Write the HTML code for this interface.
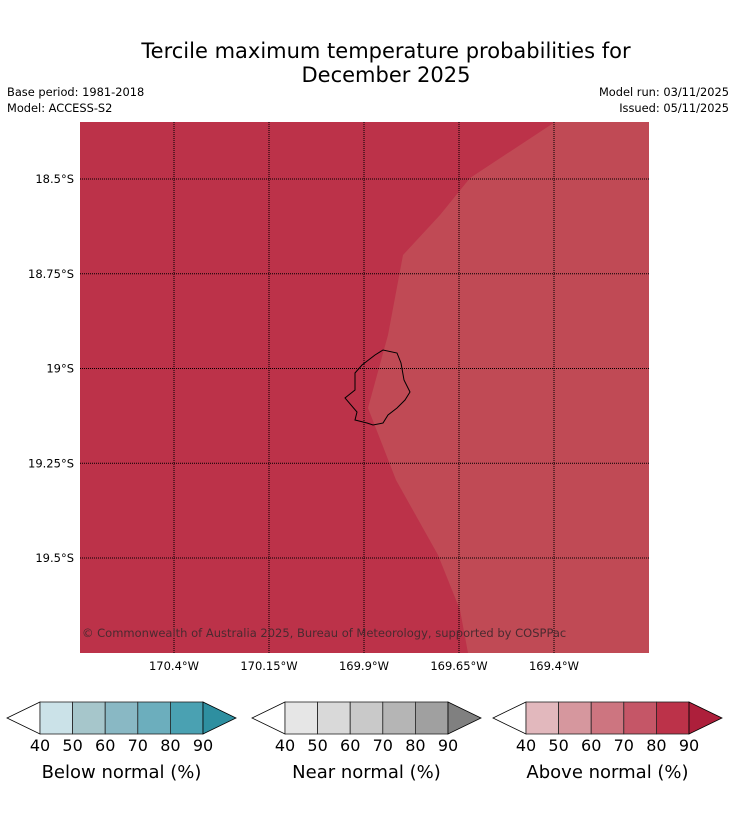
<!DOCTYPE html>
<html><head><meta charset="utf-8"><style>
body{margin:0;background:#fff;width:736px;height:816px;overflow:hidden;font-family:"Liberation Sans","DejaVu Sans",sans-serif}
svg{display:block}
</style></head><body>
<svg id="s" width="736" height="816" xmlns="http://www.w3.org/2000/svg" font-family="DejaVu Sans, Liberation Sans, sans-serif">
<text x="386" y="58" font-size="21" text-anchor="middle">Tercile maximum temperature probabilities for</text>
<text x="386" y="82" font-size="21" text-anchor="middle">December 2025</text>
<text x="7" y="96" font-size="11.4">Base period: 1981-2018</text>
<text x="7" y="112" font-size="11.4">Model: ACCESS-S2</text>
<text x="729" y="96" font-size="11.4" text-anchor="end">Model run: 03/11/2025</text>
<text x="729" y="112" font-size="11.4" text-anchor="end">Issued: 05/11/2025</text>
<g>
<rect x="80" y="122" width="569" height="531" fill="#bc3249"/>
<polygon fill="#c04a55" points="555,122 470,178 440,215 403,255 388,335 368,408 396,480 438,555 460,610 468,653 649,653 649,122"/>
<polygon fill="none" stroke="#000" stroke-width="1" points="375,355 383,350 397,353 401,363 404,380 410,392 405,400 397,408 388,415 383,423 373,425 367,423 355,420 357,412 345,398 355,390 355,373 362,365"/>
<g id="grid"></g>
<text x="82" y="637" font-size="11.5" fill="#4a2a30">© Commonwealth of Australia 2025, Bureau of Meteorology, supported by COSPPac</text>
</g>
<g id="cbars"></g>
</svg>
<script>
const lons=[-170.4,-170.15,-169.9,-169.65,-169.4];
const lonLabels=["170.4°W","170.15°W","169.9°W","169.65°W","169.4°W"];
const lats=[-18.5,-18.75,-19,-19.25,-19.5];
const latLabels=["18.5°S","18.75°S","19°S","19.25°S","19.5°S"];
const levels=[40,50,60,70,80,90];
const belowColors=["#cbe2e8","#a6c6cb","#89b8c4","#6caebd","#4aa1b2","#2e8fa0"];
const nearColors=["#e6e6e6","#d9d9d9","#c9c9c9","#b5b5b5","#a0a0a0","#808080"];
const aboveColors=["#e2b8bd","#d6979e","#cd7580","#c55667","#bc3249","#ad1f3b"];
const NS="http://www.w3.org/2000/svg";
const xLon=v=>174+(v+170.4)/0.25*95;
const yLat=v=>179+(-18.5-v)/0.25*94.75;
function mk(t,a,p){const e=document.createElementNS(NS,t);for(const k in a)e.setAttribute(k,a[k]);p.appendChild(e);return e;}
const g=document.getElementById('grid');
lons.forEach((v,i)=>{const x=xLon(v);
 const l=mk('line',{x1:x,x2:x,y1:122,y2:653,stroke:'#000','stroke-width':1,'stroke-dasharray':'1,1'},g);
 
 
 const t=mk('text',{x:x,y:670,'font-size':11.5,'text-anchor':'middle'},g);t.textContent=lonLabels[i];
 
 });
lats.forEach((v,i)=>{const y=yLat(v);
 const l=mk('line',{x1:80,x2:649,y1:y,y2:y,stroke:'#000','stroke-width':1,'stroke-dasharray':'1,1'},g);
 
 
 const t=mk('text',{x:74,y:y+4,'font-size':11.5,'text-anchor':'end'},g);t.textContent=latLabels[i];
 
 });
const cb=document.getElementById('cbars');
function bar(x0,colors,title,name){
 const grp=mk('g',{},cb);
 
 
 const w=32.6,y0=702,h=32;const x1=x0+w*(levels.length-1);
 mk('polygon',{points:`${x0},${y0} ${x0-33},${y0+h/2} ${x0},${y0+h}`,fill:'#fff',stroke:'#000','stroke-width':0.8},grp);
 for(let i=0;i<levels.length-1;i++){
  const r=mk('rect',{x:x0+i*w,y:y0,width:w,height:h,fill:colors[i],stroke:'#222','stroke-width':0.8},grp);
  
  }
 mk('polygon',{points:`${x1},${y0} ${x1+33},${y0+h/2} ${x1},${y0+h}`,fill:colors[5],stroke:'#000','stroke-width':0.8},grp);
 levels.forEach((v,i)=>{const t=mk('text',{x:x0+i*w,y:751,'font-size':16,'text-anchor':'middle'},grp);t.textContent=v;
  
  });
 const t=mk('text',{x:(x0+x1)/2,y:778,'font-size':18,'text-anchor':'middle'},grp);t.textContent=title;
 
 
}
bar(40,belowColors,"Below normal (%)","below-normal-colorbar");
bar(285,nearColors,"Near normal (%)","near-normal-colorbar");
bar(526,aboveColors,"Above normal (%)","above-normal-colorbar");
</script>
</body></html>
